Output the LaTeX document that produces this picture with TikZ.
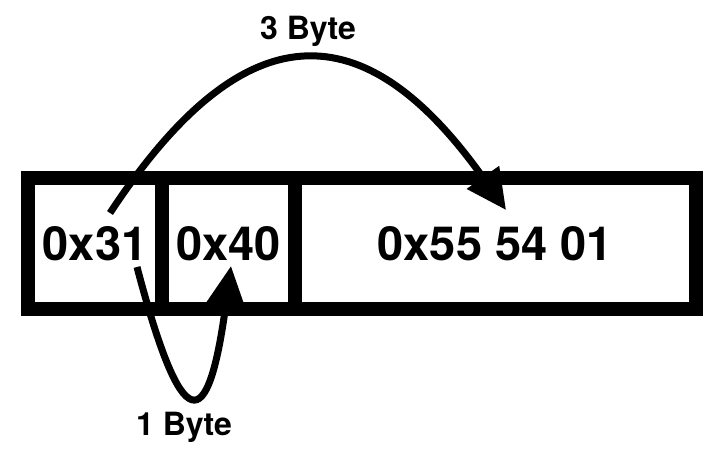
\documentclass[tikz,border=0pt]{standalone}
\usepackage{fontspec}
\setmainfont{TeX Gyre Heros}
\usetikzlibrary{arrows.meta}

\begin{document}
\begin{tikzpicture}[x=1pt, y=-1pt, >={Triangle[length=40pt, width=38pt]},
    cell/.style={draw, line width=14pt, inner sep=0pt, outer sep=0pt, minimum height=131.5pt, font=\fontsize{47}{50}\selectfont\bfseries},
    jump/.style={->, line width=7pt},
    lbl/.style={anchor=base, font=\fontsize{32}{36}\selectfont\bfseries}]
    \useasboundingbox (0,0) rectangle (718,460);

    % the three fields
    \node[cell, minimum width=134pt] (c31) at (95,243.25) {0x31};
    \node[cell, minimum width=133pt] (c40) at (228.5,243.25) {0x40};
    \node[cell, minimum width=400.5pt] (c55) at (495.25,243.25) {0x55 54 01};

    % ends of the jumps
    \coordinate (up0) at (110,213);
    \coordinate (up1) at (506,210);
    \coordinate (lo0) at (137,267);
    \coordinate (lo1) at (231,266);

    \draw[jump] (up0) .. controls (244,9.5) and (364,9.5) .. (up1);
    \draw[jump] (lo0) .. controls (182,437.8) and (208,437.8) .. (lo1);

    \node[lbl] (three) at (308,40) {3 Byte};
    \node[lbl] (one) at (184,435) {1 Byte};
\end{tikzpicture}
\end{document}
